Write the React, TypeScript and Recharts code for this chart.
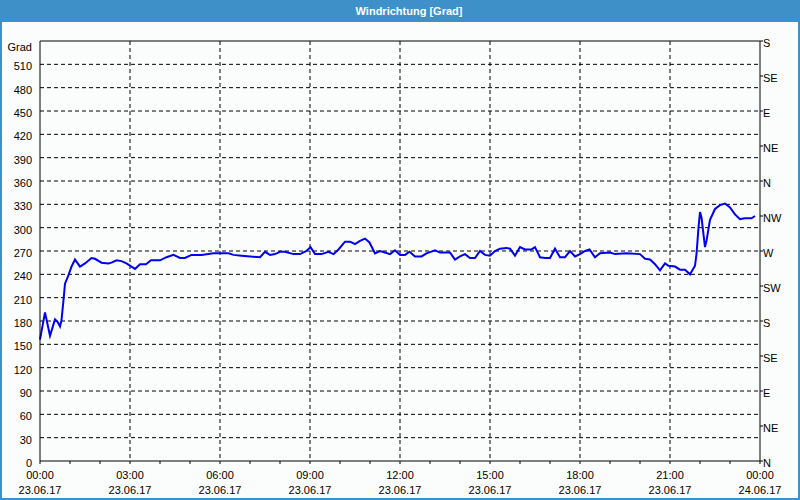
import React from "react";
import { LineChart, Line, XAxis, YAxis, CartesianGrid, ReferenceLine } from "recharts";

// time in minutes after 23.06.17 00:00
const minutes = [
  0, 10, 20, 30, 35, 40, 43, 47, 50, 57, 63, 70, 80, 90, 103, 110, 123, 137, 143, 153,
  163, 173, 190, 200, 212, 222, 240, 253, 267, 280, 290, 303, 323, 347, 377, 387, 403, 440, 450, 460,
  470, 480, 490, 507, 520, 533, 541, 550, 563, 577, 587, 597, 610, 620, 630, 640, 650, 659, 670, 680,
  690, 700, 710, 720, 730, 739, 750, 763, 773, 790, 800, 820, 830, 840, 850, 860, 870, 880, 890, 900,
  910, 920, 933, 940, 950, 960, 970, 983, 990, 1000, 1010, 1020, 1030, 1040, 1050, 1060, 1070, 1080, 1090, 1099,
  1110, 1120, 1140, 1150, 1173, 1200, 1210, 1220, 1230, 1240, 1250, 1257, 1270, 1280, 1290, 1300, 1310, 1313, 1317, 1320,
  1323, 1330, 1333, 1340, 1350, 1360, 1370, 1380, 1390, 1400, 1410, 1423, 1430,
];

const windDirection = [
  156, 191, 161, 182, 179, 173, 181, 207, 228, 239, 250, 259, 250, 254, 261, 260, 255, 254, 255, 258,
  257, 254, 247, 253, 253, 258, 258, 262, 265, 261, 261, 265, 265, 267, 267, 265, 264, 262, 269, 265,
  266, 269, 269, 266, 266, 270, 275, 266, 266, 269, 266, 272, 282, 282, 279, 283, 286, 281, 267, 270,
  268, 266, 271, 265, 265, 269, 263, 263, 267, 271, 268, 268, 259, 263, 266, 261, 261, 270, 265, 264,
  270, 273, 274, 273, 264, 275, 272, 272, 275, 262, 261, 261, 273, 262, 262, 270, 263, 266, 270, 272,
  262, 267, 268, 266, 267, 266, 260, 259, 253, 245, 254, 251, 250, 246, 246, 240, 251, 266, 300, 320,
  313, 275, 283, 310, 324, 329, 331, 326, 317, 311, 312, 312, 315,
];

const hourTicks = [0, 60, 120, 180, 240, 300, 360, 420, 480, 540, 600, 660, 720, 780, 840, 900, 960, 1020, 1080, 1140, 1200, 1260, 1320, 1380, 1440];
const majorTicks = [0, 180, 360, 540, 720, 900, 1080, 1260, 1440];
const timeLabels = ["00:00", "03:00", "06:00", "09:00", "12:00", "15:00", "18:00", "21:00", "00:00"];
const dateLabels = ["23.06.17", "23.06.17", "23.06.17", "23.06.17", "23.06.17", "23.06.17", "23.06.17", "23.06.17", "24.06.17"];

const degreeTicks = [0, 30, 60, 90, 120, 150, 180, 210, 240, 270, 300, 330, 360, 390, 420, 450, 480, 510, 540];
const gridDegrees = [30, 60, 90, 120, 150, 180, 210, 240, 270, 300, 330, 360, 390, 420, 450, 480, 510];
const unitLabel = "Grad";
const compassTicks = [0, 45, 90, 135, 180, 225, 270, 315, 360, 405, 450, 495, 540];
const compassLabels = ["N", "NE", "E", "SE", "S", "SW", "W", "NW", "N", "NE", "E", "SE", "S"];

const data = minutes.map((t, i) => ({ t, v: windDirection[i] }));

const FONT = '"Liberation Sans", Arial, sans-serif';
const BLUE = "#3d91c8";

const XTick = (props: any) => {
  const { x, y, payload } = props;
  const idx = majorTicks.indexOf(payload.value);
  if (idx < 0) return <g />;
  return (
    <g>
      <text x={x} y={y + 13} textAnchor="middle" fontSize={11} fontFamily={FONT} fill="#000">
        {timeLabels[idx]}
      </text>
      <text x={x} y={y + 28} textAnchor="middle" fontSize={11} fontFamily={FONT} fill="#000">
        {dateLabels[idx]}
      </text>
    </g>
  );
};

const LeftTick = (props: any) => {
  const { x, y, payload } = props;
  const top = payload.value === degreeTicks[degreeTicks.length - 1];
  return (
    <text x={x} y={y + (top ? 6 : 2)} dy="0.355em" textAnchor="end" fontSize={11} fontFamily={FONT} fill="#000">
      {top ? unitLabel : String(payload.value)}
    </text>
  );
};

const RightTick = (props: any) => {
  const { x, y, payload } = props;
  const idx = compassTicks.indexOf(Number(payload.value));
  return (
    <text x={x} y={y + 2} dy="0.355em" textAnchor="start" fontSize={11} fontFamily={FONT} fill="#000">
      {idx >= 0 ? compassLabels[idx] : ""}
    </text>
  );
};

export default function App() {
  return (
    <div style={{ position: "absolute", left: 0, top: 0, width: 800, height: 500, background: "#fbfdfc" }}>
      <div
        style={{
          position: "absolute",
          left: 0,
          top: 0,
          width: 800,
          height: 500,
          boxSizing: "border-box",
          border: `2px solid ${BLUE}`,
        }}
      />
      <div
        style={{
          position: "absolute",
          left: 0,
          top: 0,
          width: 800,
          height: 22,
          background: BLUE,
        }}
      >
        <div
          style={{
            position: "absolute",
            left: 409,
            top: 4,
            transform: "translateX(-50%)",
            color: "#fff",
            fontFamily: FONT,
            fontWeight: "bold",
            fontSize: 11,
            whiteSpace: "nowrap",
            lineHeight: "14px",
          }}
        >
          Windrichtung [Grad]
        </div>
      </div>
      <div style={{ position: "absolute", left: 0, top: 0 }}>
        <LineChart width={800} height={500} data={data} margin={{ top: 41, right: 0, bottom: 0, left: 0 }}>
          <CartesianGrid
            xAxisId="x"
            yAxisId="left"
            stroke="#000"
            strokeDasharray="4 3"
            horizontalValues={gridDegrees}
            verticalValues={majorTicks.slice(1, -1)}
          />
          <XAxis
            xAxisId="x"
            dataKey="t"
            type="number"
            domain={[0, 1440]}
            ticks={hourTicks}
            interval={0}
            height={39}
            tickSize={3}
            tickMargin={2}
            axisLine={{ stroke: "#000" }}
            tickLine={{ stroke: "#000" }}
            tick={<XTick />}
          />
          <YAxis
            yAxisId="left"
            orientation="left"
            type="number"
            domain={[0, 540]}
            ticks={degreeTicks}
            interval={0}
            width={40}
            tickLine={false}
            axisLine={{ stroke: "#000" }}
            tick={<LeftTick />}
          />
          <YAxis
            yAxisId="right"
            orientation="right"
            type="number"
            domain={[0, 540]}
            allowDataOverflow
            ticks={compassTicks}
            interval={0}
            width={40}
            tickSize={3}
            tickMargin={0}
            axisLine={{ stroke: "#000" }}
            tickLine={{ stroke: "#000" }}
            tick={<RightTick />}
          />
          <ReferenceLine xAxisId="x" yAxisId="left" y={540} stroke="#000" strokeWidth={1} />
          <Line
            xAxisId="x"
            yAxisId="right"
            dataKey="v"
            type="linear"
            stroke="none"
            strokeWidth={0}
            dot={false}
            activeDot={false}
            legendType="none"
            isAnimationActive={false}
          />
          <Line
            xAxisId="x"
            yAxisId="left"
            dataKey="v"
            type="linear"
            stroke="#0000ee"
            strokeWidth={2}
            dot={false}
            isAnimationActive={false}
          />
        </LineChart>
      </div>
    </div>
  );
}
